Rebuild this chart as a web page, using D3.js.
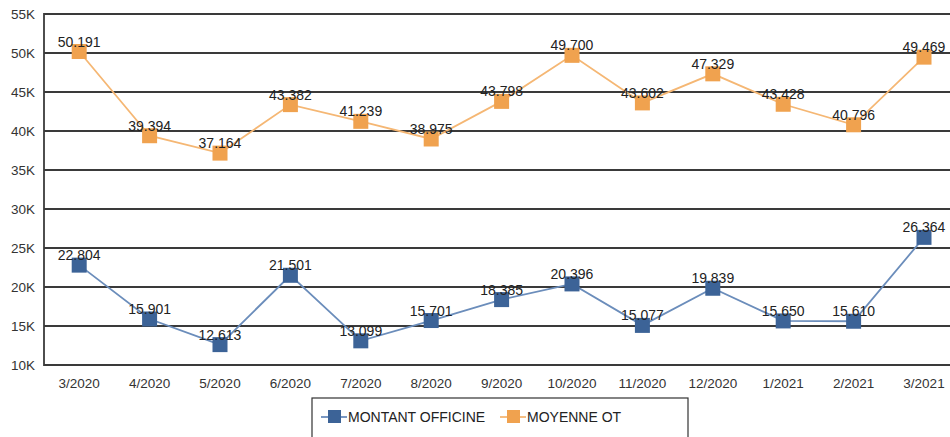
<!DOCTYPE html>
<html><head><meta charset="utf-8">
<script src="https://cdn.jsdelivr.net/npm/d3@7"></script>
<style>body{margin:0;background:#fff;}svg{display:block;font-family:"Liberation Sans",Arial,sans-serif;}</style>
</head><body>
<svg id="c" width="950" height="437"></svg>
<script>
const categories = ["3/2020","4/2020","5/2020","6/2020","7/2020","8/2020","9/2020","10/2020","11/2020","12/2020","1/2021","2/2021","3/2021"];
const montantOfficine = [22804,15901,12613,21501,13099,15701,18385,20396,15077,19839,15650,15610,26364];
const moyenneOT = [50191,39394,37164,43382,41239,38975,43798,49700,43602,47329,43428,40796,49469];
const yTicks = [10000,15000,20000,25000,30000,35000,40000,45000,50000,55000];
const seriesNames = ["MONTANT OFFICINE","MOYENNE OT"];

const svg = d3.select("#c");
const left = 44, bw = 70.4;
const x = d3.scaleBand().domain(categories).range([left, left + bw*categories.length]).padding(0);
const y = d3.scaleLinear().domain([10000,55000]).range([365,14]);
const fmt = v => d3.format(",")(v).replace(/,/g,".");

// grid
svg.append("g").selectAll("line").data(yTicks).join("line")
  .attr("x1", left).attr("x2", 950).attr("y1", d=>y(d)).attr("y2", d=>y(d))
  .attr("stroke","#3a3a3a").attr("stroke-width",1.8);
svg.append("line").attr("x1",left).attr("x2",left).attr("y1",y(55000)-1).attr("y2",y(10000)+1)
  .attr("stroke","#3a3a3a").attr("stroke-width",1.8);

// y labels
svg.append("g").selectAll("text").data(yTicks).join("text")
  .attr("x",35).attr("y",d=>y(d)+4.5).attr("text-anchor","end")
  .attr("font-size",13.5).attr("fill","#333").text(d=>(d/1000)+"K");
// x labels
svg.append("g").selectAll("text").data(categories).join("text")
  .attr("x",d=>x(d)+bw/2).attr("y",388).attr("text-anchor","middle")
  .attr("font-size",13.5).attr("fill","#333").text(d=>d);

const series = [
  {name: seriesNames[0], values: montantOfficine, mark:"#3c6397", line:"#6b8dbb"},
  {name: seriesNames[1], values: moyenneOT, mark:"#f0a24f", line:"#f5b774"}
];
const line = d3.line().x((d,i)=>x(categories[i])+bw/2).y(d=>y(d));
const ms = 15;
series.forEach(s=>{
  const g = svg.append("g");
  g.append("path").attr("d", line(s.values)).attr("fill","none").attr("stroke",s.line).attr("stroke-width",1.8);
  g.selectAll("rect").data(s.values).join("rect")
    .attr("x",(d,i)=>x(categories[i])+bw/2-ms/2).attr("y",d=>y(d)-ms/2)
    .attr("width",ms).attr("height",ms).attr("fill",s.mark);
  g.selectAll("text").data(s.values).join("text")
    .attr("x",(d,i)=>x(categories[i])+bw/2).attr("y",d=>y(d)-5)
    .attr("text-anchor","middle").attr("font-size",14).attr("fill","#222").text(fmt);
});

// legend
const lg = svg.append("g");
lg.append("rect").attr("x",312).attr("y",398).attr("width",376).attr("height",45)
  .attr("fill","#fff").attr("stroke","#333").attr("stroke-width",1.2);
const lx = [321, 500];
series.forEach((s,i)=>{
  lg.append("line").attr("x1",lx[i]).attr("x2",lx[i]+26).attr("y1",417).attr("y2",417).attr("stroke",s.line).attr("stroke-width",1.8);
  lg.append("rect").attr("x",lx[i]+7).attr("y",410).attr("width",13).attr("height",13).attr("fill",s.mark);
  lg.append("text").attr("x",lx[i]+27).attr("y",422).attr("font-size",14).attr("fill","#222").text(s.name);
});
</script>
</body></html>
